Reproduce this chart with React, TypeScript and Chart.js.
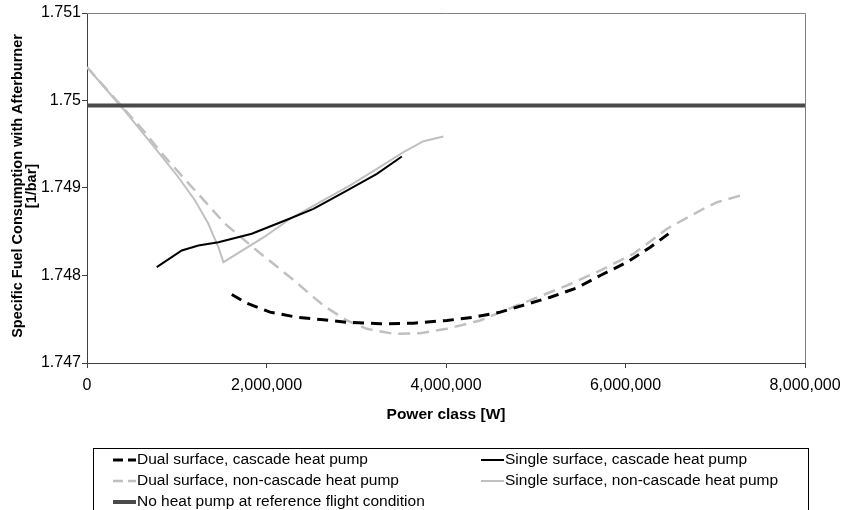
import React, { useEffect, useRef } from 'react';
import { Chart, registerables } from 'chart.js';

Chart.register(...registerables);

const FONT = '"Liberation Sans", Arial, Helvetica, sans-serif';

// Axis ticks
const xTickValues = [0, 2000000, 4000000, 6000000, 8000000];
const yTickValues = [1.747, 1.748, 1.749, 1.75, 1.751];

const xTitle = 'Power class [W]';
const yTitleLines = ['Specific Fuel Consumption with Afterburner', '[1/bar]'];

// Series: Dual surface, cascade heat pump
const dualCascadePower = [1613000, 1780000, 2040000, 2338000, 2634000, 2895000, 3266000, 3638000, 4010000, 4307000, 4604000, 5162000, 5459000, 5719000, 6017000, 6276000, 6518000];
const dualCascadeSfc = [1.747783, 1.747683, 1.747581, 1.747523, 1.747494, 1.747466, 1.747448, 1.747455, 1.747486, 1.747523, 1.747581, 1.747752, 1.747859, 1.748, 1.748152, 1.748323, 1.748506];

// Series: Single surface, cascade heat pump
const singleCascadePower = [777000, 1056000, 1241000, 1464000, 1836000, 2207000, 2523000, 2895000, 3230000, 3508000];
const singleCascadeSfc = [1.748095, 1.748286, 1.748343, 1.748381, 1.748477, 1.748629, 1.748762, 1.748971, 1.749162, 1.74936];

// Series: Dual surface, non-cascade heat pump
const dualNonCascadePower = [0, 379000, 628000, 870000, 1204000, 1538000, 1892000, 2263000, 2634000, 2895000, 3118000, 3415000, 3712000, 4010000, 4381000, 4790000, 5348000, 5719000, 6090000, 6463000, 6834000, 7020000, 7280000];
const dualNonCascadeSfc = [1.750381, 1.749943, 1.749657, 1.749352, 1.748971, 1.748591, 1.748286, 1.747981, 1.747657, 1.747486, 1.747391, 1.747334, 1.747341, 1.747391, 1.747486, 1.747657, 1.747886, 1.748057, 1.748248, 1.748534, 1.748743, 1.748838, 1.748914];

// Series: Single surface, non-cascade heat pump
const singleNonCascadePower = [0, 387000, 721000, 1018000, 1204000, 1352000, 1464000, 1520000, 1984000, 2263000, 2561000, 2932000, 3230000, 3526000, 3749000, 3972000];
const singleNonCascadeSfc = [1.750381, 1.749923, 1.749505, 1.749123, 1.748857, 1.748591, 1.748323, 1.748152, 1.748446, 1.748648, 1.748819, 1.749029, 1.749219, 1.749409, 1.749535, 1.749589];

// Series: No heat pump at reference flight condition
const referencePower = [0, 8000000];
const referenceSfc = [1.749943, 1.749943];

const seriesLabels = [
  'Dual surface, cascade heat pump',
  'Single surface, cascade heat pump',
  'Dual surface, non-cascade heat pump',
  'Single surface, non-cascade heat pump',
  'No heat pump at reference flight condition',
];

const BLACK = '#000000';
const SILVER = '#c0c0c0';
const REF = '#4a4a4a';

const zip = (xs: number[], ys: number[]) => xs.map((x, i) => ({ x, y: ys[i] }));

const legendItems = [
  { label: seriesLabels[0], color: BLACK, dash: [10, 5], width: 3, col: 0, row: 0 },
  { label: seriesLabels[1], color: BLACK, dash: [], width: 2, col: 1, row: 0 },
  { label: seriesLabels[2], color: SILVER, dash: [10, 5], width: 2.5, col: 0, row: 1 },
  { label: seriesLabels[3], color: SILVER, dash: [], width: 2, col: 1, row: 1 },
  { label: seriesLabels[4], color: REF, dash: [], width: 4, col: 0, row: 2 },
];

const decor = {
  id: 'decor',
  afterDraw(chart: any) {
    const { ctx, chartArea: a } = chart;
    ctx.save();
    // plot area top/right border
    ctx.strokeStyle = '#808080';
    ctx.lineWidth = 1;
    ctx.setLineDash([]);
    ctx.beginPath();
    ctx.moveTo(a.left, a.top + 0.5);
    ctx.lineTo(Math.round(a.right) + 0.5, a.top + 0.5);
    ctx.lineTo(Math.round(a.right) + 0.5, a.bottom);
    ctx.stroke();

    // x title
    ctx.fillStyle = '#000';
    ctx.font = `bold 15.5px ${FONT}`;
    ctx.textAlign = 'center';
    ctx.textBaseline = 'middle';
    ctx.fillText(xTitle, (a.left + a.right) / 2, 415);

    // y title
    ctx.save();
    ctx.font = `bold 14.5px ${FONT}`;
    ctx.translate(18, 186);
    ctx.rotate(-Math.PI / 2);
    ctx.fillText(yTitleLines[0], 0, 0);
    ctx.fillText(yTitleLines[1], 0, 14);
    ctx.restore();

    // legend box
    ctx.strokeStyle = '#000';
    ctx.lineWidth = 1;
    ctx.strokeRect(93.5, 448.5, 715, 80);
    ctx.font = `15.5px ${FONT}`;
    ctx.textAlign = 'left';
    const colX = [113, 481];
    const rowY = [460, 481, 502];
    legendItems.forEach((it) => {
      const x0 = colX[it.col];
      const y = rowY[it.row];
      ctx.strokeStyle = it.color;
      ctx.lineWidth = it.width;
      ctx.setLineDash(it.dash);
      ctx.beginPath();
      ctx.moveTo(x0, y);
      ctx.lineTo(x0 + 23, y);
      ctx.stroke();
      ctx.setLineDash([]);
      ctx.fillStyle = '#000';
      ctx.fillText(it.label, x0 + 24, y);
    });
    ctx.restore();
  },
};

export default function App() {
  const ref = useRef<HTMLCanvasElement | null>(null);
  useEffect(() => {
    if (!ref.current) return;
    const chart = new Chart(ref.current, {
      type: 'line',
      data: {
        datasets: [
          {
            label: seriesLabels[4],
            data: zip(referencePower, referenceSfc),
            borderColor: REF,
            borderWidth: 4,
            pointRadius: 0,
            tension: 0,
          },
          {
            label: seriesLabels[0],
            data: zip(dualCascadePower, dualCascadeSfc),
            borderColor: BLACK,
            borderWidth: 3,
            borderDash: [11, 7],
            pointRadius: 0,
            tension: 0,
          },
          {
            label: seriesLabels[1],
            data: zip(singleCascadePower, singleCascadeSfc),
            borderColor: BLACK,
            borderWidth: 2,
            pointRadius: 0,
            tension: 0,
          },
          {
            label: seriesLabels[2],
            data: zip(dualNonCascadePower, dualNonCascadeSfc),
            borderColor: SILVER,
            borderWidth: 2.5,
            borderDash: [12, 7],
            pointRadius: 0,
            tension: 0,
          },
          {
            label: seriesLabels[3],
            data: zip(singleNonCascadePower, singleNonCascadeSfc),
            borderColor: SILVER,
            borderWidth: 2,
            pointRadius: 0,
            tension: 0,
          },
        ],
      },
      options: {
        animation: false,
        responsive: false,
        events: [],
        layout: { padding: { left: 0, right: 39, top: 13, bottom: 0 } },
        plugins: { legend: { display: false }, tooltip: { enabled: false } },
        scales: {
          x: {
            type: 'linear',
            min: 0,
            max: 8000000,
            afterBuildTicks: (s: any) => {
              s.ticks = xTickValues.map((v) => ({ value: v }));
            },
            afterFit: (s: any) => {
              s.height = 147;
              s.paddingLeft = 0;
              s.paddingRight = 0;
            },
            ticks: {
              color: '#000',
              font: { family: FONT, size: 16 },
              padding: 8,
              maxRotation: 0,
              callback: (v: any) => Number(v).toLocaleString('en-US'),
            },
            grid: { drawOnChartArea: false, drawTicks: true, tickLength: 5, color: '#404040' },
            border: { color: '#404040', width: 1 },
          },
          y: {
            type: 'linear',
            min: 1.747,
            max: 1.751,
            afterBuildTicks: (s: any) => {
              s.ticks = yTickValues.map((v) => ({ value: v }));
            },
            afterFit: (s: any) => {
              s.width = 87;
              s.paddingTop = 0;
              s.paddingBottom = 0;
            },
            ticks: {
              color: '#000',
              font: { family: FONT, size: 16 },
              padding: 1,
              callback: (v: any) => String(Number(Number(v).toFixed(3))),
            },
            grid: { drawOnChartArea: false, drawTicks: true, tickLength: 5, color: '#404040' },
            border: { color: '#404040', width: 1 },
          },
        },
      },
      plugins: [decor],
    });
    return () => chart.destroy();
  }, []);
  return (
    <div style={{ position: 'absolute', left: 0, top: 0, width: 844, height: 510, background: '#fff' }}>
      <canvas ref={ref} width={844} height={510} />
    </div>
  );
}
